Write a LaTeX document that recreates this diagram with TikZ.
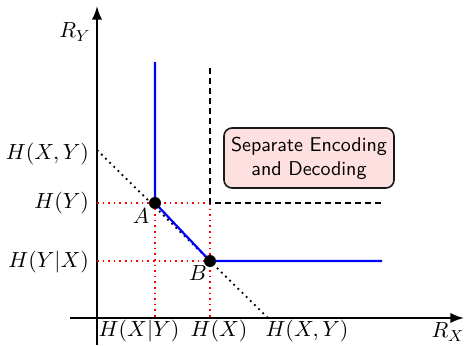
\documentclass[tikz,border=0pt]{standalone}
\usepackage{tikz}
\usetikzlibrary{arrows.meta}

\begin{document}
\begin{tikzpicture}[
    x=0.5pt, y=0.5pt,
    axis/.style={line width=1pt, -{Latex[length=2.4mm, width=1.8mm]}},
    rate/.style={blue, line width=1.1pt},
    guide/.style={red, dotted, line width=0.8pt},
    bound/.style={black, dotted, line width=0.9pt},
    region/.style={black, dashed, line width=0.8pt, dash pattern=on 3pt off 2pt},
    pt/.style={circle, fill=black, inner sep=0pt, minimum size=6pt},
    lbl/.style={font=\fontsize{10.9}{13}\selectfont},
    msg/.style={draw=black!90, fill=red!12, line width=0.8pt, rounded corners=4pt, minimum width=85pt, minimum height=30pt, align=center, font=\sffamily}
]
\useasboundingbox (-97,-27) rectangle (369,318);
% axes
\coordinate (O) at (0,0);
\draw[axis] (-27,0) -- (367,0) coordinate (xend);
\draw[axis] (0,-27) -- (0,312) coordinate (yend);
\node[lbl] at (351,-14) {$R_X$};
\node[lbl] at (-22,286) {$R_Y$};
% corner points
\coordinate (A) at (58,115);
\coordinate (B) at (113,57);
\coordinate (hxy) at (0,168);
\coordinate (hxyx) at (171,0);
% guides
\draw[guide] (0,115) -- (113,115);
\draw[guide] (0,57) -- (B);
\draw[guide] (A) -- (58,0);
\draw[guide] (113,115) -- (113,0);
\draw[bound] (hxy) -- (hxyx);
% separate coding region
\draw[region] (113,250) -- (113,115) -- (285,115);
% Slepian-Wolf region
\draw[rate] (58,256) -- (A) -- (B) -- (285,57);
\node[pt] (dotA) at (A) {};
\node[pt] (dotB) at (B) {};
\node[lbl] at (44,102) {$A$};
\node[lbl] at (101,45) {$B$};
% tick labels
\node[lbl, anchor=east] at (-1,164) {$H(X,Y)$};
\node[lbl, anchor=east] at (-1,115) {$H(Y)$};
\node[lbl, anchor=east] at (-1,56) {$H(Y|X)$};
\node[lbl] at (42,-13) {$H(X|Y)$};
\node[lbl] at (122,-13) {$H(X)$};
\node[lbl] at (210,-13) {$H(X,Y)$};
\node[msg] (sep) at (212,160) {Separate Encoding\\and Decoding};
\end{tikzpicture}
\end{document}
